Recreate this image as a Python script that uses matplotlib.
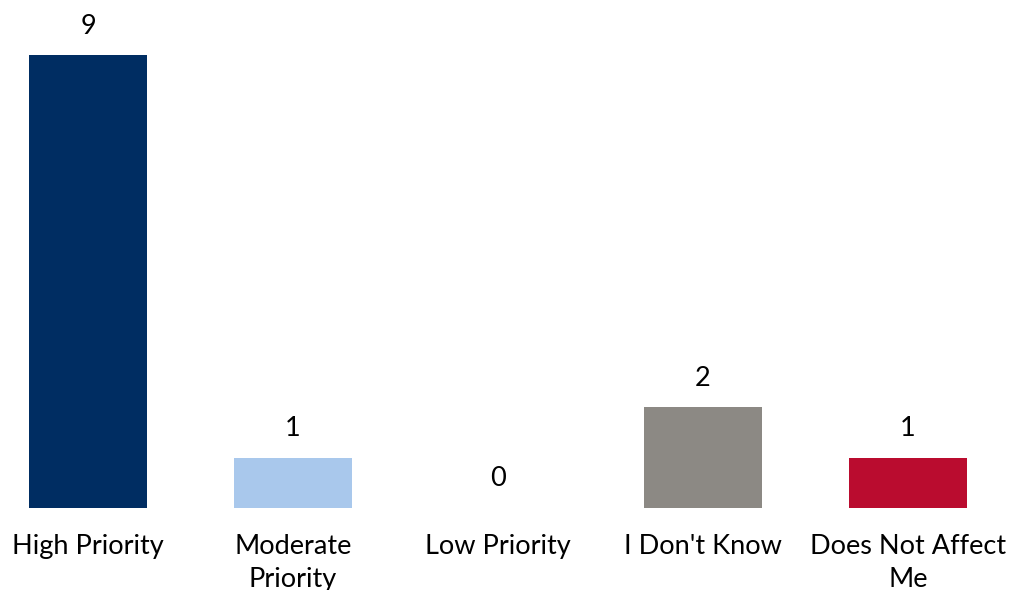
import matplotlib
matplotlib.use("Agg")
import matplotlib.pyplot as plt

categories = ["High Priority", "Moderate\nPriority", "Low Priority", "I Don't Know", "Does Not Affect\nMe"]
counts = [9, 1, 0, 2, 1]
colors = ["#002D62", "#A9C8EC", "#8C8984", "#8C8984", "#BA0C2F"]

plt.rcParams["font.family"] = ["Lato", "DejaVu Sans"]

fig = plt.figure(figsize=(10.11, 5.90), dpi=100)
ax = fig.add_axes([0.0, 82 / 590, 996 / 1011, 503 / 590])

x = list(range(len(categories)))
bars = ax.bar(x, counts, width=0.576, color=colors)

for xi, v in zip(x, counts):
    ax.annotate(str(v), xy=(xi, v), xytext=(0, 12), textcoords="offset points",
                ha="center", va="bottom", fontsize=19.5, color="#000000")

ax.set_xlim(-0.43, 4.43)
ax.set_ylim(0, 10)
ax.set_xticks(x)
ax.set_xticklabels(categories, fontsize=19.5, linespacing=1.38)
ax.tick_params(axis="x", length=0, pad=19)
ax.set_yticks([])
for s in ax.spines.values():
    s.set_visible(False)

fig.savefig("out.png", dpi=100)
